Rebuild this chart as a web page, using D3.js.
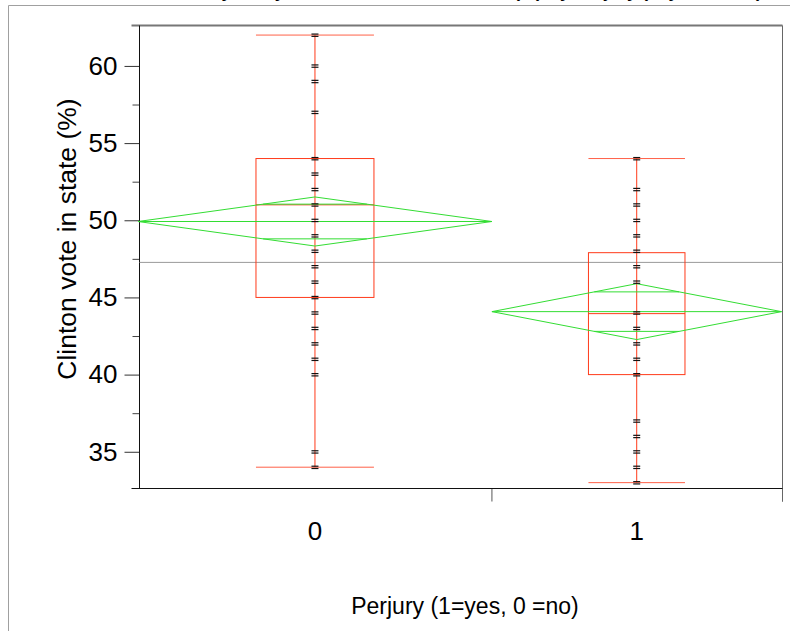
<!DOCTYPE html>
<html>
<head>
<meta charset="utf-8">
<script src="https://cdn.jsdelivr.net/npm/d3@7"></script>
<style>
  body { margin: 0; background: #fff; }
  svg { display: block; font-family: "Liberation Sans", Arial, sans-serif; }
</style>
</head>
<body>
<div id="chart"></div>
<script>
// groups, sizes (x widths are proportional to n)
var groups = ["0", "1"];
var groupN = [55, 45];

// distinct values seen in each group (state vote, %)
var values0 = [62, 60, 59, 57, 54, 53, 52, 51, 50, 49, 48, 47, 46, 45, 44, 43, 42, 41, 40, 35, 34];
var values1 = [54, 52, 51, 50, 49, 48, 47, 46, 44, 43, 42, 41, 40, 37, 36, 35, 34, 33];

// box plot stats
var boxMin = [34, 33];
var boxQ1 = [45, 40];
var boxMed = [51, 43.95];
var boxQ3 = [54, 47.9];
var boxMax = [62, 54];

// means diamonds (mean, 95% half width) and grand mean
var means = [49.92, 44.08];
var ciHalf = [1.59, 1.81];
var grandMean = 47.27;

var yTicks = [35, 40, 45, 50, 55, 60];
var yMinor = [37.5, 42.5, 47.5, 52.5, 57.5];

var W = 790, H = 631;
var pLeft = 139.5, pRight = 782.5, pTop = 25.5, pBottom = 488.5;

var svg = d3.select("#chart").append("svg")
  .attr("width", W).attr("height", H);

// outer report frame
svg.append("path")
  .attr("d", "M8.5," + H + "V5.5H" + W)
  .attr("fill", "none").attr("stroke", "#a0a0a0");

// report title, scrolled off the top (only descenders peek in)
svg.append("text")
  .attr("x", 762).attr("y", -3.5)
  .attr("text-anchor", "end")
  .attr("font-size", 18).attr("font-weight", "bold")
  .text("Oneway Analysis of Clinton vote in state (%) By Perjury (1=yes, 0 =no)");

var x = d3.scaleLinear().domain([0, d3.sum(groupN)]).range([138, 781.5]);
var y = d3.scaleLinear().domain([32.62, 62.62]).range([pBottom, pTop]);

var starts = [0, groupN[0]];
var ends = [groupN[0], groupN[0] + groupN[1]];
var centers = starts.map(function(s, i) { return (s + ends[i]) / 2; });
var allValues = [values0, values1];

// y axis ticks
var yAxis = svg.append("g")
  .attr("transform", "translate(" + pLeft + ",0)")
  .call(d3.axisLeft(y).tickValues(yTicks).tickSize(15).tickPadding(7));
yAxis.select(".domain").remove();
yAxis.selectAll("line").attr("stroke", "#333");
yAxis.selectAll("text").attr("font-size", 26).attr("fill", "#000")
  .attr("font-family", "Liberation Sans, Arial, sans-serif");

var yAxisMinor = svg.append("g")
  .attr("transform", "translate(" + pLeft + ",0)")
  .call(d3.axisLeft(y).tickValues(yMinor).tickSize(7).tickFormat(""));
yAxisMinor.select(".domain").remove();
yAxisMinor.selectAll("line").attr("stroke", "#444");

// x axis ticks at group boundaries
svg.selectAll(".xtick")
  .data(ends)
  .enter().append("line")
    .attr("class", "xtick")
    .attr("x1", function(d, i) { return i == ends.length - 1 ? pRight : x(d); })
    .attr("x2", function(d, i) { return i == ends.length - 1 ? pRight : x(d); })
    .attr("y1", pBottom).attr("y2", pBottom + 13)
    .attr("stroke", "#555");

svg.selectAll(".xlab")
  .data(groups)
  .enter().append("text")
    .attr("class", "xlab")
    .attr("x", function(d, i) { return x(centers[i]); })
    .attr("y", 540)
    .attr("text-anchor", "middle")
    .attr("font-size", 26)
    .text(function(d) { return d; });

// plot frame
svg.append("line").attr("x1", 131.5).attr("x2", pRight).attr("y1", pTop).attr("y2", pTop)
  .attr("stroke", "#777").attr("stroke-width", 2);
svg.append("line").attr("x1", pRight).attr("x2", pRight).attr("y1", pTop).attr("y2", pBottom + 13)
  .attr("stroke", "#666");
svg.append("line").attr("x1", pLeft).attr("x2", pLeft).attr("y1", pTop).attr("y2", pBottom)
  .attr("stroke", "#111");
svg.append("line").attr("x1", 131.5).attr("x2", pRight).attr("y1", pBottom).attr("y2", pBottom)
  .attr("stroke", "#111");

// grand mean
svg.append("line")
  .attr("x1", pLeft).attr("x2", pRight)
  .attr("y1", y(grandMean)).attr("y2", y(grandMean))
  .attr("stroke", "#9a9a9a");

var red = "#ff3a1a";
var green = "#33dd33";

groups.forEach(function(g, i) {
  var xc = x(centers[i]);
  var gw = x(ends[i]) - x(starts[i]);
  var bw = gw / 3;
  var grp = svg.append("g").attr("class", "group-" + g);

  // whisker and caps
  grp.append("line")
    .attr("x1", xc).attr("x2", xc)
    .attr("y1", y(boxMin[i])).attr("y2", y(boxMax[i]))
    .attr("stroke", red);
  [boxMin[i], boxMax[i]].forEach(function(v) {
    grp.append("line")
      .attr("x1", xc - bw / 2).attr("x2", xc + bw / 2)
      .attr("y1", y(v)).attr("y2", y(v))
      .attr("stroke", red).attr("stroke-opacity", 0.8);
  });

  // box + median
  grp.append("rect")
    .attr("x", xc - bw / 2).attr("width", bw)
    .attr("y", y(boxQ3[i])).attr("height", y(boxQ1[i]) - y(boxQ3[i]))
    .attr("fill", "none").attr("stroke", red);
  grp.append("line")
    .attr("x1", xc - bw / 2).attr("x2", xc + bw / 2)
    .attr("y1", y(boxMed[i])).attr("y2", y(boxMed[i]))
    .attr("stroke", red);

  // means diamond
  var x0 = x(starts[i]), x1 = x(ends[i]);
  var pts = [[x0, y(means[i])], [xc, y(means[i] + ciHalf[i])], [x1, y(means[i])], [xc, y(means[i] - ciHalf[i])]];
  grp.append("polygon")
    .attr("points", pts.map(function(p) { return p.join(","); }).join(" "))
    .attr("fill", "none").attr("stroke", green);
  grp.append("line")
    .attr("x1", x0).attr("x2", x1)
    .attr("y1", y(means[i])).attr("y2", y(means[i]))
    .attr("stroke", green);
  // overlap marks
  var ov = ciHalf[i] / Math.SQRT2;
  var hw = (gw / 2) * (1 - 1 / Math.SQRT2);
  [means[i] + ov, means[i] - ov].forEach(function(v) {
    grp.append("line")
      .attr("x1", xc - hw).attr("x2", xc + hw)
      .attr("y1", y(v)).attr("y2", y(v))
      .attr("stroke", green);
  });

  // points drawn as small double dashes
  var pt = grp.selectAll(".pt")
    .data(allValues[i])
    .enter().append("g")
      .attr("class", "pt")
      .attr("transform", function(d) { return "translate(" + xc + "," + y(d) + ")"; });
  pt.append("line").attr("x1", -3.5).attr("x2", 3.5).attr("y1", -1).attr("y2", -1)
    .attr("stroke", "#111").attr("stroke-width", 1.2);
  pt.append("line").attr("x1", -3.5).attr("x2", 3.5).attr("y1", 1.3).attr("y2", 1.3)
    .attr("stroke", "#111").attr("stroke-width", 1.2);
});

// axis titles
svg.append("text")
  .attr("transform", "translate(76,239) rotate(-90)")
  .attr("text-anchor", "middle")
  .attr("font-size", 26.5)
  .text("Clinton vote in state (%)");

svg.append("text")
  .attr("x", 465).attr("y", 614)
  .attr("text-anchor", "middle")
  .attr("font-size", 23)
  .text("Perjury (1=yes, 0 =no)");
</script>
</body>
</html>
